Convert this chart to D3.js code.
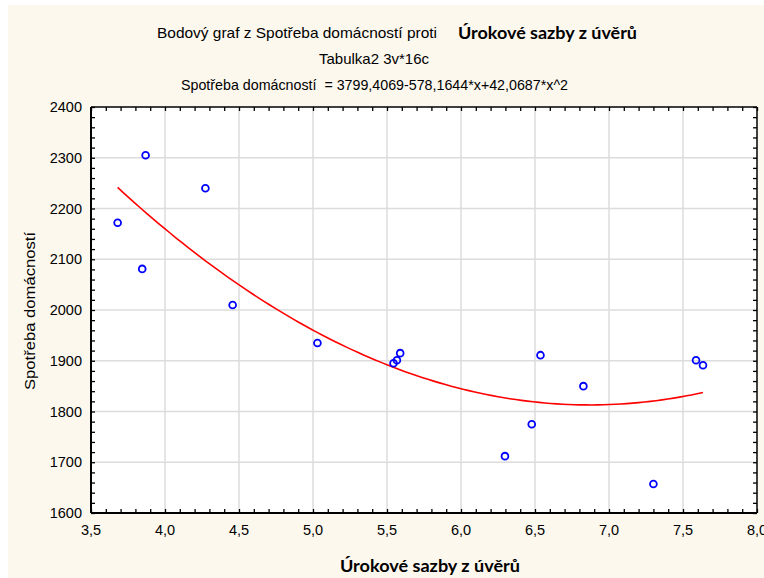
<!DOCTYPE html>
<html>
<head>
<meta charset="utf-8">
<script src="https://cdn.jsdelivr.net/npm/d3@7"></script>
<style>
  body { margin: 0; background: #ffffff; }
  svg text { fill: #000; }
</style>
</head>
<body>
<div id="chart"></div>
<script>
// Úrokové sazby z úvěrů (x) vs Spotřeba domácností (y)
const rates = [3.68, 3.869, 3.846, 4.273, 4.457, 5.03, 5.544, 5.567, 5.589, 6.537, 6.827, 6.478, 6.297, 7.588, 7.635, 7.300];
const spending = [2172, 2305, 2081, 2240, 2010, 1935, 1895, 1901, 1915, 1911, 1850, 1775, 1712, 1901, 1891, 1657];

// coefficients of the quadratic fit printed in the title
const fitCoef = [3799.4069, -578.1644, 42.0687];

const xTicks = [3.5, 4.0, 4.5, 5.0, 5.5, 6.0, 6.5, 7.0, 7.5, 8.0];
const yTicks = [1600, 1700, 1800, 1900, 2000, 2100, 2200, 2300, 2400];

const titleLine1 = 'Bodový graf z Spotřeba domácností proti';
const titleLine1Bold = 'Úrokové sazby z úvěrů';
const titleLine2 = 'Tabulka2 3v*16c';
const titleLine3 = 'Spotřeba domácností  = 3799,4069-578,1644*x+42,0687*x^2';
const xLabel = 'Úrokové sazby z úvěrů';
const yLabel = 'Spotřeba domácností';

const width = 764, height = 578;
const margin = { top: 107, right: 7, bottom: 65, left: 91 };

const cz = d3.formatLocale({ decimal: ',', thousands: ' ', grouping: [3], currency: ['', ''] });
const fmtX = cz.format('.1f');

const x = d3.scaleLinear().domain([3.5, 8.0]).range([margin.left, width - margin.right]);
const y = d3.scaleLinear().domain([1600, 2400]).range([height - margin.bottom, margin.top]);

const svg = d3.select('#chart').append('svg')
    .attr('width', width)
    .attr('height', height)
    .attr('viewBox', [0, 0, width, height]);

// cream background
svg.append('rect')
    .attr('x', 8).attr('y', 5)
    .attr('width', width - 8).attr('height', height - 5)
    .attr('fill', '#fdf8ee');

// plot area
svg.append('rect')
    .attr('x', margin.left).attr('y', margin.top)
    .attr('width', x.range()[1] - margin.left)
    .attr('height', y.range()[0] - margin.top)
    .attr('fill', '#ffffff');

// grid
const grid = svg.append('g').attr('stroke', '#dcdcdc').attr('stroke-width', 1.5);
grid.selectAll('.gx')
    .data(xTicks.slice(1, -1))
    .join('line')
    .attr('x1', d => x(d)).attr('x2', d => x(d))
    .attr('y1', margin.top).attr('y2', y.range()[0]);
grid.selectAll('.gy')
    .data(yTicks.slice(1, -1))
    .join('line')
    .attr('y1', d => y(d)).attr('y2', d => y(d))
    .attr('x1', margin.left).attr('x2', x.range()[1]);

// minor ticks every 0.1 on x, every 20 on y
const xMinor = d3.range(35, 81).map(v => v / 10);
const yMinor = d3.range(1600, 2401, 20);

const tickLen = 4;
let xAxisBottom = g => g
    .attr('transform', `translate(0,${y.range()[0]})`)
    .call(d3.axisBottom(x).tickValues(xMinor).tickSize(-tickLen).tickFormat('').tickSizeOuter(0))
    .call(g => g.select('.domain').remove());

let xAxisTop = g => g
    .attr('transform', `translate(0,${margin.top})`)
    .call(d3.axisTop(x).tickValues(xMinor).tickSize(-tickLen).tickFormat('').tickSizeOuter(0))
    .call(g => g.select('.domain').remove());

let yAxisLeft = g => g
    .attr('transform', `translate(${margin.left},0)`)
    .call(d3.axisLeft(y).tickValues(yMinor).tickSize(-tickLen).tickFormat('').tickSizeOuter(0))
    .call(g => g.select('.domain').remove());

let yAxisRight = g => g
    .attr('transform', `translate(${x.range()[1]},0)`)
    .call(d3.axisRight(y).tickValues(yMinor).tickSize(-tickLen).tickFormat('').tickSizeOuter(0))
    .call(g => g.select('.domain').remove());

[xAxisBottom, xAxisTop, yAxisLeft, yAxisRight].forEach(a => {
    svg.append('g').call(a)
        .call(g => g.selectAll('.tick line').attr('stroke', '#000').attr('stroke-width', 1.3));
});

// tick labels
svg.append('g')
    .attr('font-family', '"Liberation Sans", Arial, sans-serif')
    .attr('font-size', 14.5)
    .selectAll('text')
    .data(xTicks)
    .join('text')
    .attr('x', d => x(d))
    .attr('y', y.range()[0] + 22)
    .attr('text-anchor', 'middle')
    .text(d => fmtX(d));

svg.append('g')
    .attr('font-family', '"Liberation Sans", Arial, sans-serif')
    .attr('font-size', 14.5)
    .selectAll('text')
    .data(yTicks)
    .join('text')
    .attr('x', margin.left - 9)
    .attr('y', d => y(d) + 5)
    .attr('text-anchor', 'end')
    .text(d => d);

// frame
const frame = svg.append('g').attr('stroke', '#000').attr('fill', 'none');
frame.append('line')
    .attr('x1', margin.left).attr('x2', margin.left)
    .attr('y1', margin.top).attr('y2', y.range()[0])
    .attr('stroke-width', 2);
frame.append('line')
    .attr('x1', margin.left).attr('x2', x.range()[1])
    .attr('y1', y.range()[0]).attr('y2', y.range()[0])
    .attr('stroke-width', 2);
frame.append('line')
    .attr('x1', margin.left).attr('x2', x.range()[1])
    .attr('y1', margin.top).attr('y2', margin.top)
    .attr('stroke-width', 1.5);
frame.append('line')
    .attr('x1', x.range()[1]).attr('x2', x.range()[1])
    .attr('y1', margin.top).attr('y2', y.range()[0])
    .attr('stroke-width', 1.5);

// fitted curve
const fit = v => fitCoef[0] + fitCoef[1] * v + fitCoef[2] * v * v;
const [xMin, xMax] = d3.extent(rates);
const curveX = d3.range(0, 101).map(i => xMin + (xMax - xMin) * i / 100);

let line = d3.line()
    .x(d => x(d))
    .y(d => y(fit(d)));

svg.append('path')
    .datum(curveX)
    .attr('d', line)
    .attr('fill', 'none')
    .attr('stroke', '#ff0000')
    .attr('stroke-width', 1.6);

// points
svg.append('g')
    .selectAll('circle')
    .data(rates)
    .join('circle')
    .attr('cx', d => x(d))
    .attr('cy', (d, i) => y(spending[i]))
    .attr('r', 3.4)
    .attr('fill', 'none')
    .attr('stroke', '#0000ff')
    .attr('stroke-width', 1.8);

// titles
const narrow = '"Liberation Sans Narrow", "Liberation Sans", Arial, sans-serif';
svg.append('text')
    .attr('x', 437).attr('y', 38)
    .attr('text-anchor', 'end')
    .attr('font-family', narrow)
    .attr('font-size', 15)
    .attr('textLength', 280)
    .attr('lengthAdjust', 'spacingAndGlyphs')
    .text(titleLine1);
svg.append('text')
    .attr('x', 458).attr('y', 39)
    .attr('font-family', 'Lato, "Open Sans", sans-serif')
    .attr('font-weight', 'bold')
    .attr('font-size', 17.5)
    .attr('textLength', 179)
    .attr('lengthAdjust', 'spacingAndGlyphs')
    .text(titleLine1Bold);
svg.append('text')
    .attr('x', 374).attr('y', 64)
    .attr('text-anchor', 'middle')
    .attr('font-family', narrow)
    .attr('font-size', 15)
    .text(titleLine2);
svg.append('text')
    .attr('x', 181).attr('y', 90)
    .attr('font-family', narrow)
    .attr('font-size', 15)
    .attr('textLength', 387)
    .attr('lengthAdjust', 'spacingAndGlyphs')
    .style('white-space', 'pre')
    .text(titleLine3);

// axis titles
svg.append('text')
    .attr('x', 430).attr('y', 572)
    .attr('text-anchor', 'middle')
    .attr('font-family', 'Lato, "Open Sans", sans-serif')
    .attr('font-weight', 'bold')
    .attr('font-size', 17.5)
    .attr('textLength', 180)
    .attr('lengthAdjust', 'spacingAndGlyphs')
    .text(xLabel);
svg.append('text')
    .attr('transform', `translate(35,${(margin.top + y.range()[0]) / 2 + 1}) rotate(-90)`)
    .attr('text-anchor', 'middle')
    .attr('font-family', '"Liberation Sans", Arial, sans-serif')
    .attr('font-size', 15)
    .attr('textLength', 158)
    .attr('lengthAdjust', 'spacingAndGlyphs')
    .text(yLabel);
</script>
</body>
</html>
